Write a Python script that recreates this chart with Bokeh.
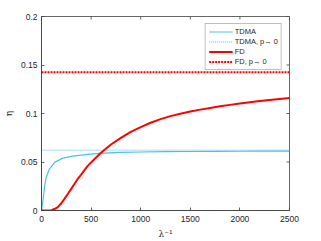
import math
from bokeh.plotting import figure
from bokeh.models import LinearAxis, FixedTicker, Range1d, Legend, LegendItem
from bokeh.embed import file_html
from bokeh.resources import INLINE

# data
tdma_x = [0, 5, 13, 20, 30, 47, 80, 131, 215, 298, 400, 466, 587, 788, 1000, 1250, 1500, 1750, 2000, 2250, 2500]
tdma_y = [0, 0.004, 0.0086, 0.015, 0.024, 0.034, 0.0427, 0.0496, 0.054, 0.0558, 0.057, 0.0578, 0.0589, 0.0599,
          0.0603, 0.0606, 0.0608, 0.061, 0.0611, 0.0612, 0.0613]
tdma_lim = 0.0622

fd_x = [0, 50, 100, 130, 164, 200, 231, 265, 298, 330, 365, 400, 466, 530, 600, 700, 800, 900, 1000, 1100,
        1200, 1300, 1400, 1500, 1600, 1700, 1800, 1900, 2000, 2200, 2400, 2500]
fd_y = [0, 0, 0.0003, 0.0015, 0.0035, 0.0075, 0.012, 0.017, 0.022, 0.027, 0.0325, 0.037, 0.046, 0.0525,
        0.0595, 0.068, 0.0748, 0.081, 0.086, 0.0905, 0.0942, 0.0973, 0.0998, 0.102, 0.104, 0.1057, 0.1074,
        0.1089, 0.1103, 0.1128, 0.115, 0.116]
fd_lim = 0.1426

x_ticks = [0, 500, 1000, 1500, 2000, 2500]
y_ticks = [0, 0.05, 0.1, 0.15, 0.2]
y_tick_labels = {0: "0", 0.05: "0.05", 0.1: "0.1", 0.15: "0.15", 0.2: "0.2"}

labels = ["TDMA", "TDMA, p\u2192 0", "FD", "FD, p\u2192 0"]

X_MIN, X_MAX = 0, 2500
Y_MIN, Y_MAX = 0, 0.2

BLUE = "#4DBEEE"
RED = "#FF0000"
AX = "#404040"
TXT = "#262626"
FONT = "Liberation Sans"

p = figure(frame_width=248, frame_height=194, output_backend="svg", toolbar_location=None,
           title=None,
           x_range=Range1d(X_MIN, X_MAX), y_range=Range1d(Y_MIN, Y_MAX),
           min_border_left=33, min_border_right=23, min_border_top=16, min_border_bottom=23,
           x_axis_location=None, y_axis_location=None)
p.grid.visible = False
p.outline_line_color = AX
p.outline_line_width = 0.8
p.background_fill_color = "white"
p.border_fill_color = "white"

def style_axis(ax, ticks):
    ax.ticker = FixedTicker(ticks=ticks)
    ax.major_tick_in = 3
    ax.major_tick_out = 0
    ax.minor_tick_line_color = None
    ax.axis_line_color = AX
    ax.axis_line_width = 0.8
    ax.major_tick_line_color = AX
    ax.major_tick_line_width = 0.8
    ax.major_label_text_font = FONT
    ax.major_label_text_color = TXT
    ax.major_label_text_font_size = "8.5px"
    ax.major_label_standoff = 5
    ax.axis_label_text_font = "DejaVu Serif"
    ax.axis_label_text_font_style = "normal"
    ax.axis_label_text_font_size = "9px"
    ax.axis_label_text_color = TXT

xb = LinearAxis(axis_label="\u03bb\u207b\u00b9")
style_axis(xb, x_ticks)
xb.axis_label_standoff = 4
p.add_layout(xb, "below")

yl = LinearAxis(axis_label="\u03b7")
style_axis(yl, y_ticks)
yl.major_label_overrides = y_tick_labels
yl.major_label_standoff = 4
yl.axis_label_standoff = 4
p.add_layout(yl, "left")

# inward ticks on the top and right frame edges (clipped to the frame)
p.scatter(x_ticks, [Y_MAX] * len(x_ticks), marker="dash", angle=math.pi / 2, size=6,
          line_color=AX, line_width=0.8)
p.scatter([X_MAX] * len(y_ticks), y_ticks, marker="dash", size=6,
          line_color=AX, line_width=0.8)

r1 = p.line(tdma_x, tdma_y, line_color=BLUE, line_width=1.2)
r2 = p.line([X_MIN, X_MAX], [tdma_lim, tdma_lim], line_color=BLUE, line_width=1, line_dash="1 1")
r3 = p.line(fd_x, fd_y, line_color=RED, line_width=2)
r4 = p.line([X_MIN, X_MAX], [fd_lim, fd_lim], line_color=RED, line_width=2, line_dash="2 1")

legend = Legend(items=[LegendItem(label=labels[0], renderers=[r1]),
                       LegendItem(label=labels[1], renderers=[r2]),
                       LegendItem(label=labels[2], renderers=[r3]),
                       LegendItem(label=labels[3], renderers=[r4])],
                location="top_right")
legend.margin = 7
legend.padding = 3
legend.spacing = 1
legend.glyph_width = 24
legend.glyph_height = 9
legend.label_height = 9
legend.label_width = 10
legend.label_standoff = 2
legend.label_text_font = FONT
legend.label_text_font_size = "7.5px"
legend.label_text_color = TXT
legend.border_line_color = "#808080"
legend.border_line_width = 1
legend.background_fill_color = "white"
legend.background_fill_alpha = 1
p.add_layout(legend, "center")

open("out.html", "w").write(file_html(p, INLINE))
